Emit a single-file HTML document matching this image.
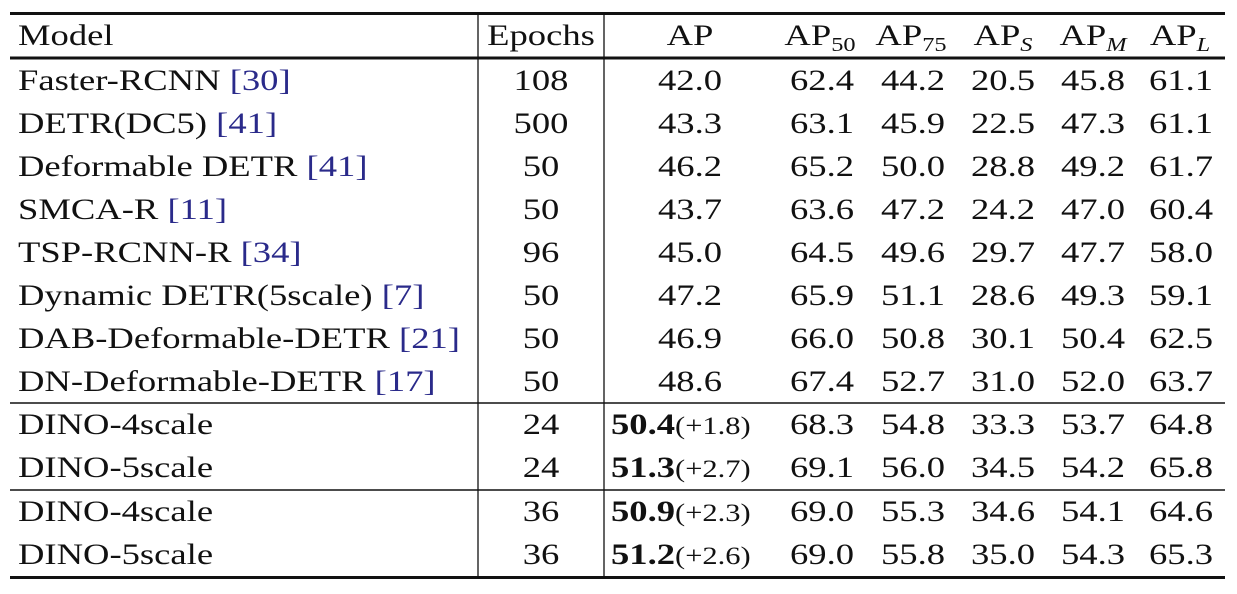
<!DOCTYPE html>
<html><head><meta charset="utf-8"><style>
html,body{margin:0;padding:0;background:#fff;}
svg text{font-family:"Liberation Serif",serif;font-size:30px;fill:#111;}
.c{fill:#2a2a8a;}
</style></head><body>
<svg width="1237" height="589">
<g id="rules"></g>
<g id="cells"></g>
</svg>
<script>
const models=["Faster-RCNN|30","DETR(DC5)|41","Deformable DETR|41","SMCA-R|11","TSP-RCNN-R|34","Dynamic DETR(5scale)|7","DAB-Deformable-DETR|21","DN-Deformable-DETR|17","DINO-4scale|","DINO-5scale|","DINO-4scale|","DINO-5scale|"];
const epochs=["108","500","50","50","96","50","50","50","24","24","36","36"];
const ap=["42.0","43.3","46.2","43.7","45.0","47.2","46.9","48.6","50.4","51.3","50.9","51.2"];
const gain=["","","","","","","","","+1.8","+2.7","+2.3","+2.6"];
const ap50=["62.4","63.1","65.2","63.6","64.5","65.9","66.0","67.4","68.3","69.1","69.0","69.0"];
const ap75=["44.2","45.9","50.0","47.2","49.6","51.1","50.8","52.7","54.8","56.0","55.3","55.8"];
const apS=["20.5","22.5","28.8","24.2","29.7","28.6","30.1","31.0","33.3","34.5","34.6","35.0"];
const apM=["45.8","47.3","49.2","47.0","47.7","49.3","50.4","52.0","53.7","54.2","54.1","54.3"];
const apL=["61.1","61.1","61.7","60.4","58.0","59.1","62.5","63.7","64.8","65.8","64.6","65.3"];
const NS="http://www.w3.org/2000/svg";
const rules=document.getElementById('rules'),cells=document.getElementById('cells');
function line(x1,y1,x2,y2,w,name){const l=document.createElementNS(NS,'line');
l.setAttribute('x1',x1);l.setAttribute('y1',y1);l.setAttribute('x2',x2);l.setAttribute('y2',y2);
l.setAttribute('stroke','#111');l.setAttribute('stroke-width',w);


rules.appendChild(l);}
line(10,13.5,1225,13.5,3,'top-rule');
line(10,58,1225,58,3,'header-rule');
line(10,403,1225,403,1.5,'group-rule-1');
line(10,490,1225,490,1.5,'group-rule-2');
line(10,577.5,1225,577.5,3,'bottom-rule');
line(478,13,478,578,1.3,'col-divider-1');
line(604,13,604,578,1.3,'col-divider-2');
const SX=1.22;
function txt(x,y,html,anchor,name){const t=document.createElementNS(NS,'text');
t.setAttribute('x',0);t.setAttribute('y',0);t.setAttribute('text-anchor',anchor);
t.setAttribute('transform','translate('+x+','+y+') scale('+SX+',1)');
t.innerHTML=html;


cells.appendChild(t);}
const hy=45;
txt(18,hy,'Model','start','header-model');
txt(541,hy,'Epochs','middle','header-epochs');
txt(690,hy,'AP','middle','header-ap');
txt(820,hy,'AP<tspan font-size="20" dy="6">50</tspan>','middle','header-ap50');
txt(911,hy,'AP<tspan font-size="20" dy="6">75</tspan>','middle','header-ap75');
txt(1003,hy,'AP<tspan font-size="20" dy="6" font-style="italic">S</tspan>','middle','header-aps');
txt(1093,hy,'AP<tspan font-size="20" dy="6" font-style="italic">M</tspan>','middle','header-apm');
txt(1180,hy,'AP<tspan font-size="20" dy="6" font-style="italic">L</tspan>','middle','header-apl');
const ys=[90,133,176,219,262,305,348,391,434,477,521,564];
models.forEach((m,i)=>{
 const y=ys[i];const [name,ref]=m.split('|');
 txt(18,y,name+(ref?' <tspan class="c">['+ref+']</tspan>':''),'start','model-name');
 txt(541,y,epochs[i],'middle','epochs-value');
 if(gain[i]) txt(611,y,'<tspan font-weight="bold">'+ap[i]+'</tspan><tspan font-size="25">('+gain[i]+')</tspan>','start','ap-value');
 else txt(690,y,ap[i],'middle','ap-value');
 txt(822,y,ap50[i],'middle','ap50-value');
 txt(913,y,ap75[i],'middle','ap75-value');
 txt(1003,y,apS[i],'middle','aps-value');
 txt(1093,y,apM[i],'middle','apm-value');
 txt(1181,y,apL[i],'middle','apl-value');
});
</script>
</body></html>
